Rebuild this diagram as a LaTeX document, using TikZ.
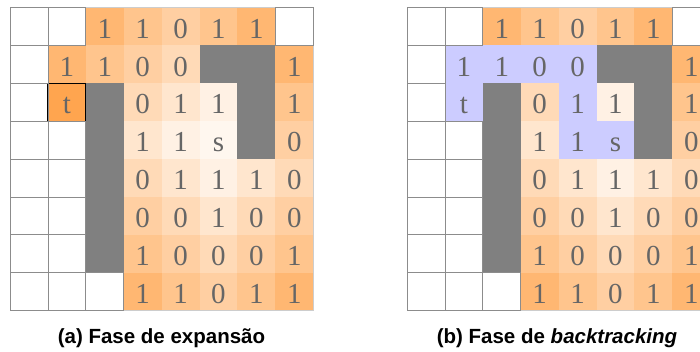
\documentclass[tikz,border=0pt]{standalone}
\usepackage{fontspec}
\setmainfont{Liberation Serif}
\newfontfamily\capfont{Liberation Sans}

\definecolor{heat}{RGB}{255,165,79}
\definecolor{wall}{RGB}{128,128,128}
\definecolor{trail}{RGB}{204,204,255}
\definecolor{digitgray}{RGB}{102,102,102}
\definecolor{cellline}{RGB}{140,140,140}
\definecolor{rimline}{RGB}{205,205,205}

% cells reached by the search: row/col/shade/label
\newcommand\heatlist{%
1/3/80/1, 1/4/65/1, 1/5/53/0, 1/6/65/1, 1/7/80/1,
2/2/80/1, 2/3/65/1, 2/4/53/0, 2/5/41/0, 2/8/80/1,
3/2/100/t, 3/4/41/0, 3/5/28/1, 3/6/15/1, 3/8/65/1,
4/4/28/1, 4/5/15/1, 4/6/9/s, 4/8/53/0,
5/4/41/0, 5/5/28/1, 5/6/15/1, 5/7/28/1, 5/8/41/0,
6/4/53/0, 6/5/41/0, 6/6/28/1, 6/7/41/0, 6/8/53/0,
7/4/65/1, 7/5/53/0, 7/6/41/0, 7/7/53/0, 7/8/65/1,
8/4/80/1, 8/5/65/1, 8/6/53/0, 8/7/65/1, 8/8/80/1}
\newcommand\walllist{2/6, 2/7, 3/3, 3/7, 4/3, 4/7, 5/3, 6/3, 7/3}
\newcommand\freelist{1/1, 1/2, 1/8, 2/1, 3/1, 4/1, 4/2, 5/1, 5/2, 6/1, 6/2, 7/1, 7/2, 8/1, 8/2, 8/3}
\newcommand\pathlist{4/6, 4/5, 3/5, 2/5, 2/4, 2/3, 2/2, 3/2}

\tikzset{
  cellnum/.style={anchor=base, inner sep=0pt, text=digitgray,
    font=\fontsize{29}{29}\selectfont},
  freecell/.style={draw=cellline, line width=0.8pt},
  caption/.style={anchor=base, inner sep=0pt,
    font=\capfont\bfseries\fontsize{20.5}{20.5}\selectfont},
}

% one 8x8 map; #1 = name prefix, #2 = extra drawing on top of the fills
\newcommand\mapgrid[2]{%
  \foreach \r/\c/\p/\t in \heatlist {
    \fill[heat!\p!white] (\c-1,-\r) rectangle ++(1,1);
  }
  \foreach \r/\c in \walllist {
    \fill[wall] (\c-1,-\r) rectangle ++(1,1);
  }
  #2
  \draw[rimline, line width=0.8pt] (0,0) rectangle (8,-8);
  \foreach \r/\c in \freelist {
    \draw[freecell] (\c-1,-\r) rectangle ++(1,1);
  }
  \foreach \r/\c/\p/\t in \heatlist {
    \node[cellnum] (#1-\r-\c) at (\c-0.5,-\r+0.19) {\t};
  }
}

\begin{document}
\begin{tikzpicture}[x=1pt,y=1pt]
  \useasboundingbox (0,0) rectangle (700,352);
  \clip (0,0) rectangle (700,352);

  % expansion phase
  \begin{scope}[shift={(10,344.5)}, x=37.9pt, y=37.9pt]
    \mapgrid{a}{\draw[black, line width=1pt] (1,-3) rectangle (2,-2);}
  \end{scope}

  % backtracking phase
  \begin{scope}[shift={(407,344.5)}, x=37.9pt, y=37.9pt]
    \mapgrid{b}{\foreach \r/\c in \pathlist {
        \fill[trail] (\c-1,-\r) rectangle ++(1,1);
      }}
  \end{scope}

  \node[caption] (capa) at (161.5,8) {(a) Fase de expansão};
  \node[caption] (capb) at (557,8) {(b) Fase de \textit{backtracking}};
\end{tikzpicture}
\end{document}
